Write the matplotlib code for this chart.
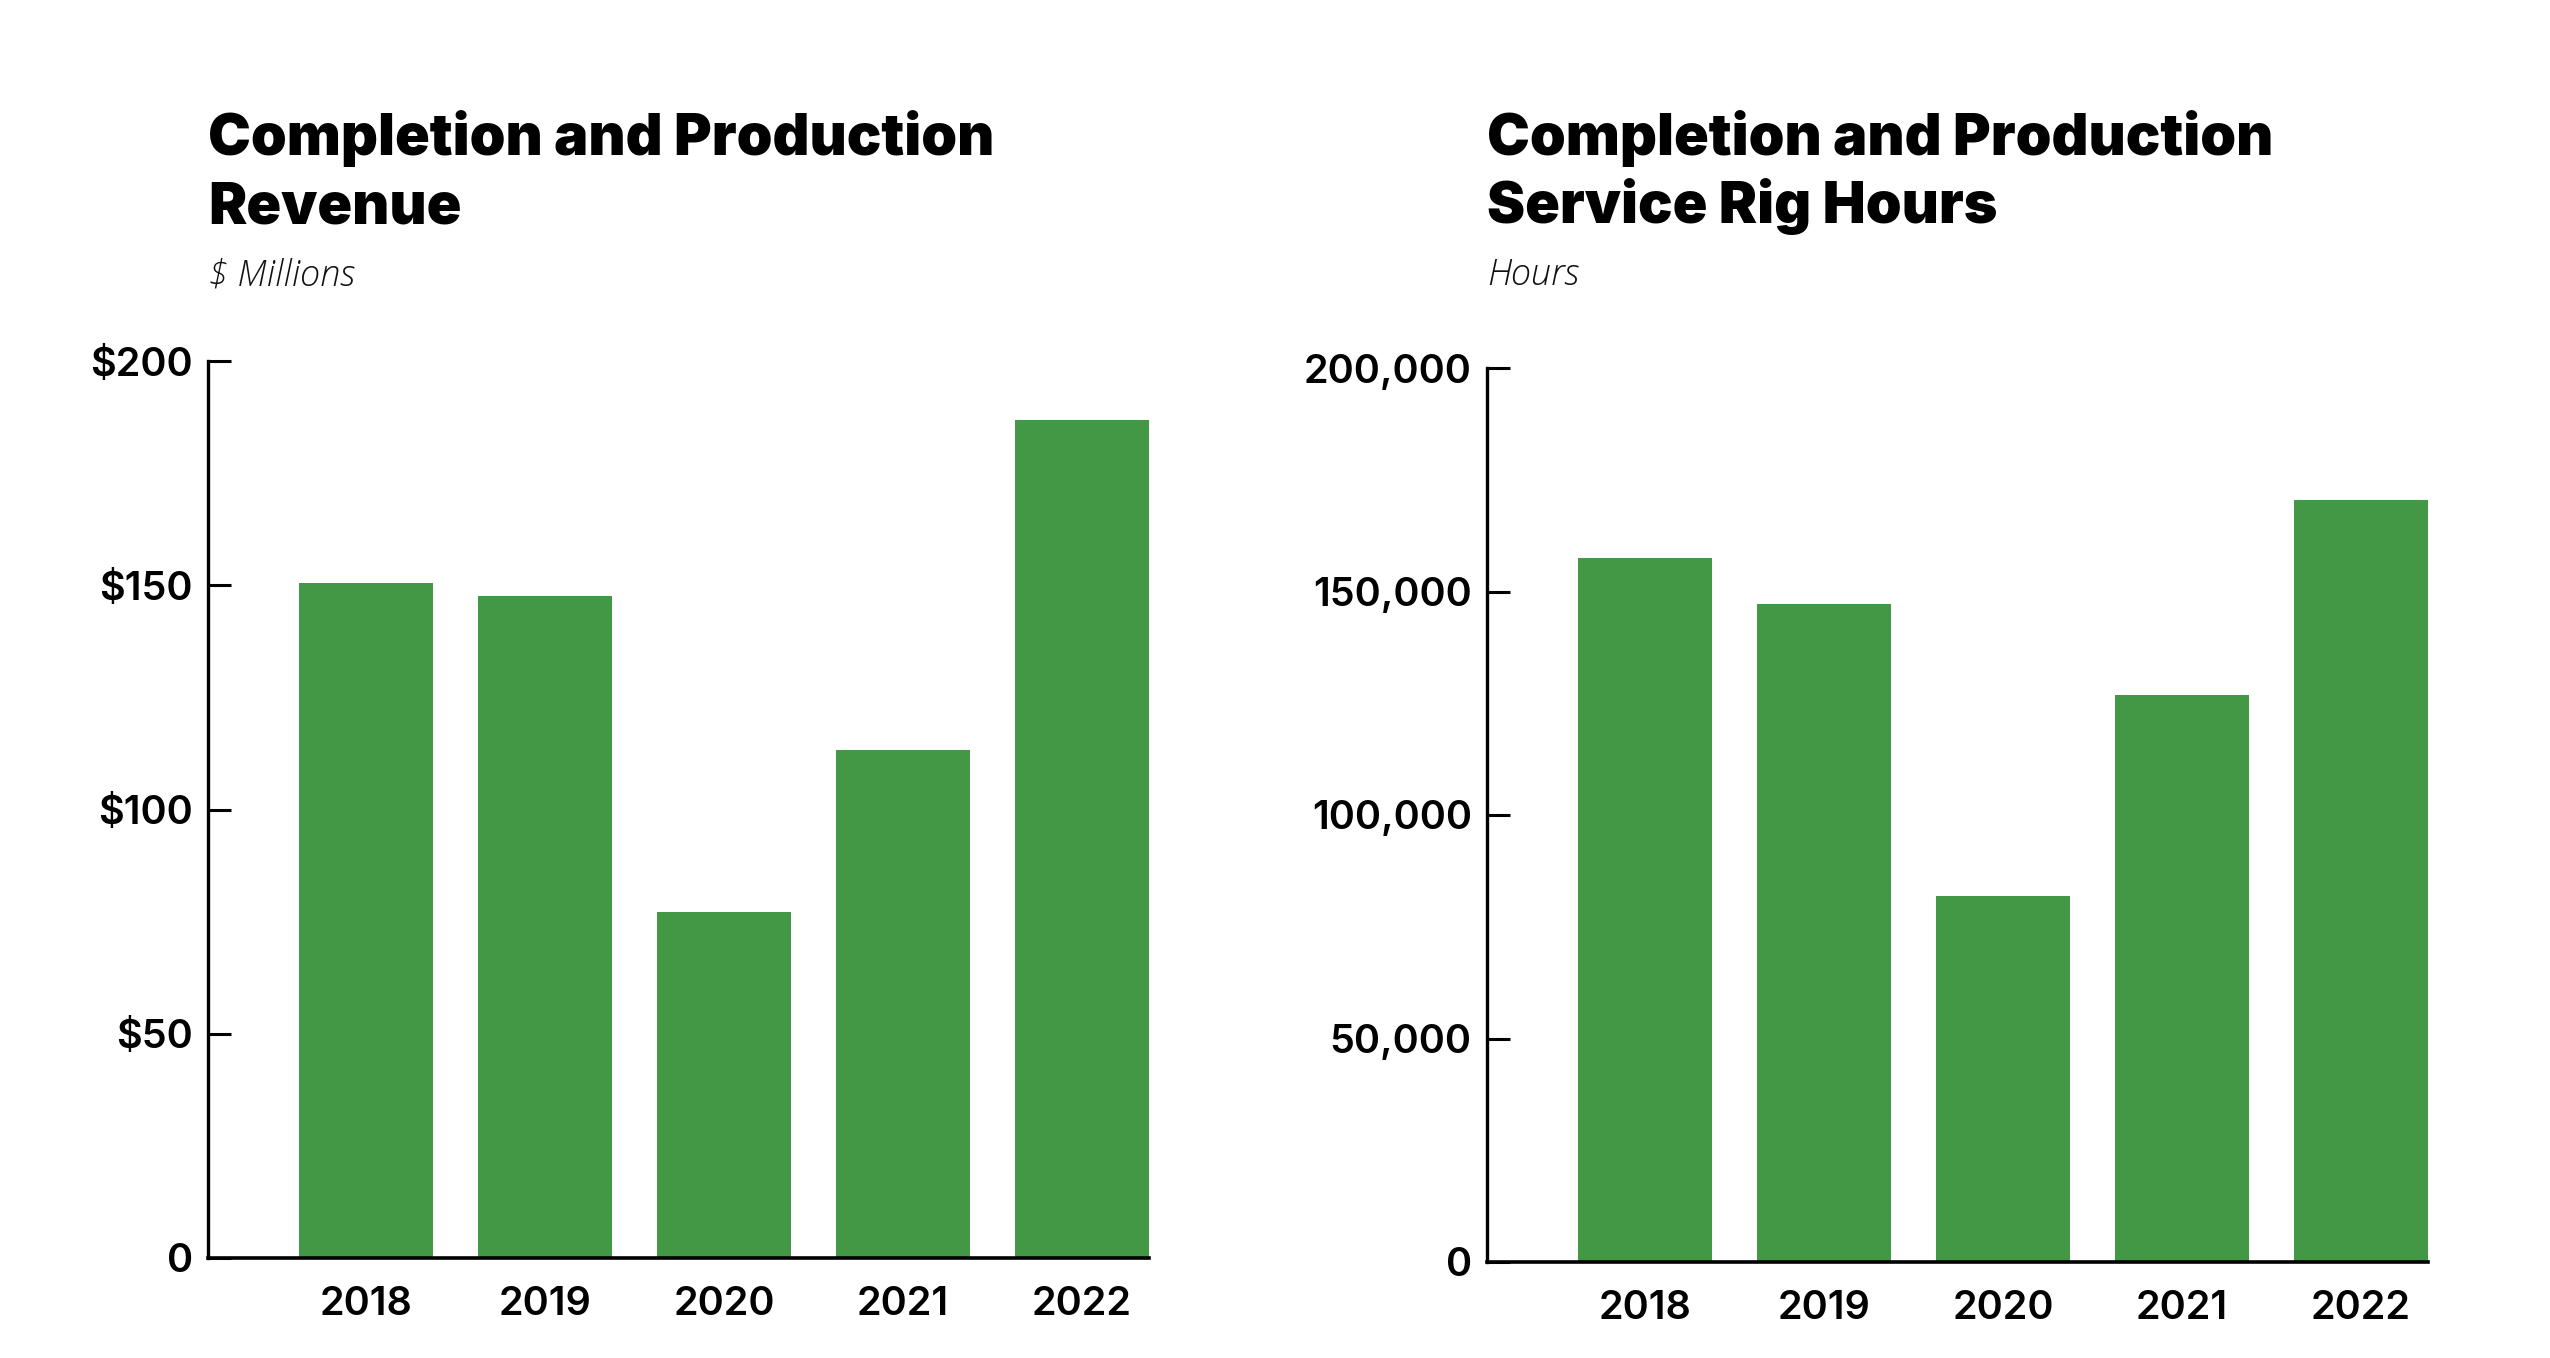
import matplotlib
matplotlib.use("Agg")
import matplotlib.pyplot as plt
from matplotlib.ticker import FixedLocator, FixedFormatter

years = ["2018", "2019", "2020", "2021", "2022"]
revenue = [150.5, 147.6, 77.1, 113.3, 186.9]
rig_hours = [157500, 147200, 81800, 126900, 170500]
rev_ticks = [0, 50, 100, 150, 200]
rev_tick_labels = ["0", "$50", "$100", "$150", "$200"]
hrs_ticks = [0, 50000, 100000, 150000, 200000]
hrs_tick_labels = ["0", "50,000", "100,000", "150,000", "200,000"]
titles = [["Completion and Production", "Revenue"],
          ["Completion and Production", "Service Rig Hours"]]
subtitles = ["$ Millions", "Hours"]

GREEN = "#439845"
W, H = 2550, 1358
DPI = 100
fig = plt.figure(figsize=(W / DPI, H / DPI), dpi=DPI)
fig.patch.set_facecolor("white")

TITLE_FONT = ["Inter", "Roboto", "DejaVu Sans"]
TICK_FONT = ["Inter", "Roboto", "DejaVu Sans"]
SUB_FONT = ["Open Sans", "Roboto", "DejaVu Sans"]

axes_specs = [
    (208, 1149, 361, 1258, revenue, rev_ticks, rev_tick_labels, (0, 200)),
    (1487, 2428, 368, 1262, rig_hours, hrs_ticks, hrs_tick_labels, (0, 200000)),
]

for i, (x0, x1, ytop, ybot, vals, ticks, tlabels, ylim) in enumerate(axes_specs):
    ax = fig.add_axes([x0 / W, 1 - ybot / H, (x1 - x0) / W, (ybot - ytop) / H])
    xs = list(range(len(years)))
    ax.bar(xs, vals, width=0.748, color=GREEN, zorder=2)
    ax.set_xlim(-0.883, 4.374)
    ax.set_ylim(*ylim)
    for s in ["top", "right"]:
        ax.spines[s].set_visible(False)
    ax.spines["left"].set_linewidth(2.4)
    ax.spines["bottom"].set_linewidth(2.6)
    ax.spines["bottom"].set_zorder(3)
    ax.yaxis.set_major_locator(FixedLocator(ticks))
    ax.yaxis.set_major_formatter(FixedFormatter(tlabels))
    ax.set_xticks(xs)
    ax.set_xticklabels(years)
    ax.tick_params(axis="y", direction="in", length=16.5, width=2.2, pad=11,
                   labelsize=28.5)
    ax.tick_params(axis="x", length=0, pad=20, labelsize=28.5)
    for lab in ax.get_xticklabels() + ax.get_yticklabels():
        lab.set_fontfamily(TICK_FONT)
        lab.set_fontweight(600)
    tx = x0 / W
    for j, line in enumerate(titles[i]):
        fig.text(tx, 1 - (155 + 68 * j) / H, line, fontsize=41.3,
                 fontfamily=TITLE_FONT, fontweight="black",
                 va="baseline", ha="left")
    fig.text(tx, 1 - 285 / H, subtitles[i], fontsize=26, fontfamily=SUB_FONT,
             fontweight="light", fontstyle="italic", color="#111111",
             va="baseline", ha="left")

fig.savefig("out.png", dpi=DPI, facecolor="white")
